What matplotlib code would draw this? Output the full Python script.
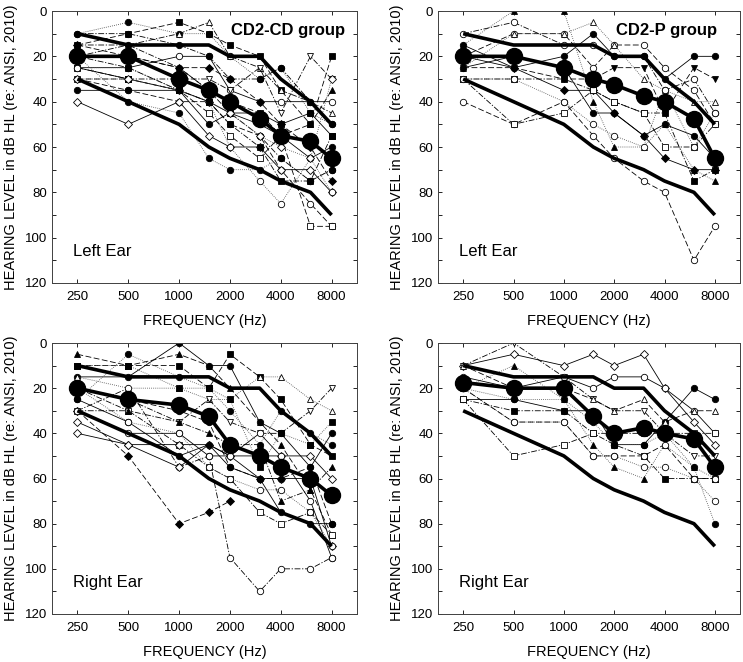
import matplotlib
matplotlib.use("Agg")
import matplotlib.pyplot as plt
from matplotlib.ticker import NullLocator, FixedLocator

plt.rcParams['font.family'] = ['Liberation Sans', 'DejaVu Sans']

# audiometric test frequencies (Hz)
freqs = [250, 500, 1000, 1500, 2000, 3000, 4000, 6000, 8000]
freq_ticks = [250, 500, 1000, 2000, 4000, 8000]

# inclusion boundaries (dB HL)
upper_ref = [10, 15, 15, 15, 20, 20, 30, 40, 50]
lower_ref = [30, 40, 50, 60, 65, 70, 75, 80, 90]

# group means
mean_cd_left = [20, 20, 30, 35, 40, 47.5, 55, 57.5, 65]
mean_p_left = [20, 20, 25, 30, 32.5, 37.5, 40, 47.5, 65]
mean_cd_right = [20, 25, 27.5, 32.5, 45, 50, 55, 60, 67.5]
mean_p_right = [17.5, 20, 20, 32.5, 40, 37.5, 40, 42.5, 55]

# individual thresholds, None = not tested
cd_left = [
    [10, 5, 10, 10, 20, 30, 25, 45, 50],
    [15, 10, 5, 10, 15, 20, 35, 50, 20],
    [20, 15, 10, 5, 20, 25, 35, 40, 45],
    [25, 25, 20, 20, 35, 40, 40, 40, 40],
    [15, 20, 25, 25, 30, 40, 50, 60, 75],
    [25, 30, 30, 30, 35, 25, 45, 20, 30],
    [30, 35, 40, 40, 50, 55, 70, 85, 95],
    [35, 35, 35, 50, 45, 50, 55, 65, 60],
    [40, 50, 40, 55, 60, 60, 70, 70, 80],
    [10, 10, 15, 20, 30, 30, 25, 40, 50],
    [30, 30, 35, 45, 55, 65, 55, 95, 95],
    [20, 40, 45, 65, 70, 70, 65, 75, 70],
    [25, 30, 35, 40, 45, 45, 50, 45, 55],
    [25, 25, 35, 40, 60, 75, 85, 65, 80],
    [20, 20, 25, 35, 40, 45, 55, 50, 35],
    [15, 15, 25, 35, 45, 55, 65, 75, 70],
    [30, 30, 35, 40, 45, 55, 60, 65, 30],
    [20, 25, 35, 40, 50, 60, 75, 75, 55],
]
cd_left_styles = [
    ('o', 1, ':', '0.25'), ('s', 1, '--', 'k'), ('^', 0, '-.', 'k'),
    ('o', 0, '-', 'k'), ('D', 1, '--', 'k'), ('v', 0, '-.', 'k'),
    ('o', 0, '--', 'k'), ('o', 1, '-', 'k'), ('D', 0, '-', 'k'),
    ('o', 1, '-.', 'k'), ('s', 0, '--', 'k'), ('o', 1, ':', '0.3'),
    ('s', 1, '-', 'k'), ('o', 0, ':', '0.3'), ('^', 1, '--', 'k'),
    ('o', 1, '-.', 'k'), ('D', 0, ':', '0.3'), ('s', 1, '-.', 'k'),
]

p_left = [
    [15, 0, 0, 40, 60, 60, 50, 70, 75],
    [10, 5, 15, 15, 20, 20, 35, 30, 45],
    [20, 10, 10, 25, 15, 15, 25, 35, 50],
    [25, 10, 10, 5, 15, 30, 35, 40, 40],
    [15, 25, 20, 10, 20, 20, 30, 20, 20],
    [25, 25, 30, 30, 25, 25, 45, 25, 30],
    [30, 30, 30, 35, 40, 45, 45, 75, 70],
    [20, 25, 35, 35, 45, 55, 65, 70, 70],
    [40, 50, 40, 55, 65, 75, 80, 110, 95],
    [30, 50, 45, 35, 40, 45, 60, 60, 50],
    [25, 20, 25, 45, 45, 55, 50, 55, 65],
    [30, 30, 40, 50, 55, 60, 35, 60, 45],
]
p_left_styles = [
    ('^', 1, ':', '0.3'), ('o', 0, '-.', 'k'), ('o', 0, '--', 'k'),
    ('^', 0, ':', '0.3'), ('o', 1, '-', 'k'), ('v', 1, '--', 'k'),
    ('s', 1, '-.', 'k'), ('D', 1, '-', 'k'), ('o', 0, '--', 'k'),
    ('s', 0, '-.', 'k'), ('o', 1, '-', 'k'), ('o', 0, ':', '0.3'),
]

cd_right = [
    [5, 10, 5, 10, 20, 35, 45, 65, 85],
    [10, 10, 10, 20, 5, 15, 25, 45, 50],
    [15, 15, 0, 10, 10, 35, 40, 55, 40],
    [25, 5, 15, 20, 30, 45, 30, 40, 45],
    [15, 20, 20, 25, 25, 15, 15, 25, 30],
    [20, 25, 35, 25, 35, 40, 40, 30, 20],
    [30, 20, 55, 50, 95, 110, 100, 100, 95],
    [30, 50, 80, 75, 70, None, None, None, None],
    [30, 30, 45, 55, 60, 75, 80, 75, 85],
    [35, 45, 45, 45, 50, 50, 50, 50, 60],
    [40, 45, 55, 45, 50, 60, 60, 60, 90],
    [30, 40, 40, 50, 50, 40, 50, 70, 95],
    [25, 35, 50, 45, 55, 60, 75, 80, 80],
    [10, 10, 20, 20, 25, 55, 40, 45, 35],
    [20, 30, 35, 40, 45, 45, 70, 65, 55],
    [20, 35, 40, 55, 60, 65, 65, 75, 90],
    [20, 25, 30, 35, 55, 60, 60, 55, 80],
]
cd_right_styles = [
    ('^', 1, '--', 'k'), ('s', 1, '--', 'k'), ('o', 1, '-', 'k'),
    ('o', 1, ':', '0.3'), ('^', 0, ':', '0.3'), ('v', 0, '-.', 'k'),
    ('o', 0, '-.', 'k'), ('D', 1, '--', 'k'), ('s', 0, '-.', 'k'),
    ('D', 0, '-', 'k'), ('D', 0, '-', 'k'), ('o', 0, '-', 'k'),
    ('o', 1, '-', 'k'), ('s', 1, ':', '0.3'), ('^', 1, '-.', 'k'),
    ('o', 0, ':', '0.3'), ('o', 1, '--', 'k'),
]

p_right = [
    [10, 5, 10, 5, 10, 5, 20, 35, 45],
    [10, 0, 15, 25, 30, 30, 40, 50, 50],
    [20, 10, 25, 45, 55, 60, 45, 55, 60],
    [15, 20, 15, 20, 15, 15, 20, 30, 40],
    [25, 25, 30, 30, 45, 45, 35, 20, 25],
    [25, 30, 30, 40, 45, 50, 60, 60, 60],
    [25, 50, 45, 40, 40, 40, 40, 40, 40],
    [20, 35, 35, 50, 50, 55, 55, 60, 70],
    [10, 20, 20, 25, 30, 25, 35, 30, 30],
    [20, 25, 25, 35, 45, 45, 40, 55, 80],
    [20, 35, 35, 50, 50, 50, 45, 60, 60],
]
p_right_styles = [
    ('D', 0, '-', 'k'), ('v', 0, '-.', 'k'), ('^', 1, ':', '0.3'),
    ('o', 0, '-', 'k'), ('o', 1, '-', 'k'), ('s', 1, '-.', 'k'),
    ('s', 0, '-.', 'k'), ('o', 0, ':', '0.3'), ('^', 0, '--', 'k'),
    ('o', 1, ':', '0.3'), ('o', 0, '--', 'k'),
]

DASHES = {'-': '-', '--': (0, (7, 3)), '-.': (0, (7, 2, 1.5, 2)), ':': (0, (1, 1.5))}


def draw_panel(ax, subjects, styles, means, group, ear):
    for vals, (mk, filled, ls, col) in zip(subjects, styles):
        x = [f for f, v in zip(freqs, vals) if v is not None]
        y = [v for v in vals if v is not None]
        ax.plot(x, y, linestyle=DASHES[ls], color=col, lw=0.6, marker=mk,
                ms=4.6 if mk != 'D' else 4.0, mfc='black' if filled else 'white',
                mec='black', mew=0.6, zorder=2)
    ax.plot(freqs, upper_ref, color='black', lw=2.6, zorder=3, solid_capstyle='butt')
    ax.plot(freqs, lower_ref, color='black', lw=2.6, zorder=3, solid_capstyle='butt')
    ax.plot(freqs, means, color='black', lw=2.6, marker='o', ms=11.5, zorder=4)

    ax.set_xscale('log')
    ax.set_xlim(250 / 2 ** 0.5, 8000 * 2 ** 0.5)
    ax.set_ylim(120, 0)
    ax.xaxis.set_major_locator(FixedLocator(freq_ticks))
    ax.xaxis.set_minor_locator(NullLocator())
    ax.set_xticklabels([str(f) for f in freq_ticks])
    ax.set_yticks(range(0, 121, 20))
    ax.set_yticks(range(10, 121, 20), minor=True)
    ax.tick_params(which='both', direction='in', top=True, right=True,
                   length=3, width=0.6, labelsize=9.5)
    ax.tick_params(axis='x', pad=6)
    for sp in ax.spines.values():
        sp.set_linewidth(0.7)
        sp.set_color('0.25')
    ax.set_xlabel('FREQUENCY (Hz)', fontsize=10.5, labelpad=8)
    ax.set_ylabel('HEARING LEVEL in dB HL (re: ANSI, 2010)', fontsize=10.5, labelpad=5)
    if group:
        ax.text(0.588, 0.955, group, transform=ax.transAxes, ha='left', va='top',
                fontsize=12, fontweight='bold')
    ax.text(0.07, 0.1, ear, transform=ax.transAxes, ha='left', va='baseline', fontsize=12)


fig = plt.figure(figsize=(7.43, 6.62), dpi=100)
W, H = 743.0, 662.0
ax1 = fig.add_axes([52 / W, 1 - 283 / H, 305 / W, 272 / H])
ax2 = fig.add_axes([438 / W, 1 - 283 / H, 302 / W, 272 / H])
ax3 = fig.add_axes([52 / W, 1 - 614 / H, 305 / W, 271 / H])
ax4 = fig.add_axes([438 / W, 1 - 614 / H, 302 / W, 271 / H])

draw_panel(ax1, cd_left, cd_left_styles, mean_cd_left, 'CD2-CD group', 'Left Ear')
draw_panel(ax2, p_left, p_left_styles, mean_p_left, 'CD2-P group', 'Left Ear')
draw_panel(ax3, cd_right, cd_right_styles, mean_cd_right, None, 'Right Ear')
draw_panel(ax4, p_right, p_right_styles, mean_p_right, None, 'Right Ear')

fig.savefig('out.png', dpi=100)
